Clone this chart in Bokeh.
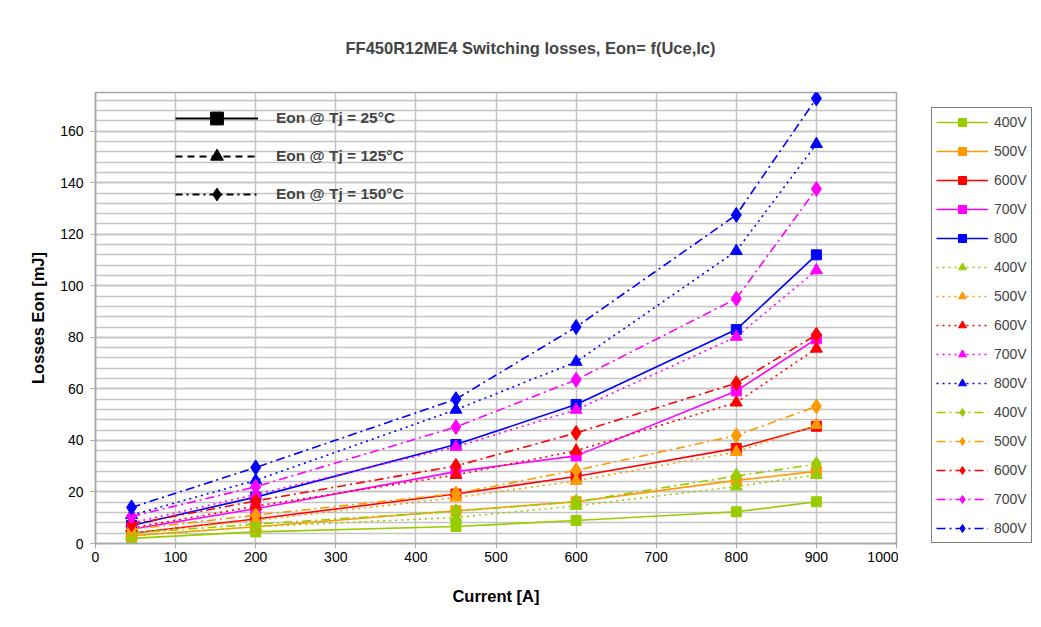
from bokeh.plotting import figure
from bokeh.layouts import row
from bokeh.models import (ColumnDataSource, Legend, LegendItem, Range1d,
                          SingleIntervalTicker)
from bokeh.embed import file_html
from bokeh.resources import INLINE

# ---------------- data ----------------
current = [45, 200, 450, 600, 800, 900]

labels_25 = ["400V", "500V", "600V", "700V", "800"]
labels_125 = ["400V", "500V", "600V", "700V", "800V"]
labels_150 = ["400V", "500V", "600V", "700V", "800V"]

eon_25_400 = [2.0, 4.5, 6.6, 8.9, 12.3, 16.2]
eon_25_500 = [3.0, 6.5, 12.7, 16.2, 24.5, 28.0]
eon_25_600 = [4.0, 9.5, 19.2, 26.0, 36.9, 45.5]
eon_25_700 = [5.5, 13.5, 27.9, 34.0, 59.2, 79.4]
eon_25_800 = [7.0, 18.0, 38.4, 53.9, 83.0, 112.0]

eon_125_400 = [3.0, 6.5, 10.1, 14.6, 22.1, 26.6]
eon_125_500 = [4.0, 9.0, 17.8, 24.3, 35.5, 46.0]
eon_125_600 = [6.0, 14.5, 26.6, 36.0, 54.7, 75.6]
eon_125_700 = [8.0, 19.0, 37.5, 51.9, 80.2, 106.0]
eon_125_800 = [11.0, 24.5, 51.9, 70.5, 113.5, 155.0]

eon_150_400 = [4.0, 7.5, 12.5, 16.2, 26.2, 30.8]
eon_150_500 = [5.5, 11.0, 19.4, 28.4, 41.9, 53.2]
eon_150_600 = [7.5, 16.5, 30.1, 42.9, 62.2, 81.0]
eon_150_700 = [10.5, 22.0, 45.2, 63.5, 95.0, 137.6]
eon_150_800 = [14.0, 29.5, 56.0, 84.0, 127.5, 172.7]

temp_labels = ["Eon @ Tj = 25°C", "Eon @ Tj = 125°C", "Eon @ Tj = 150°C"]

# ---------------- styles ----------------
colors = ["#99cc00", "#ff9900", "#ff0000", "#ff00ff", "#0000ff"]
FONT = "Liberation Sans"
GRID = "#c4c4c4"
nan = float("nan")

p = figure(width=898, height=619, output_backend="svg", toolbar_location=None,
           x_range=Range1d(0, 1000), y_range=Range1d(0, 175),
           min_border_left=95, min_border_right=2, min_border_top=90,
           min_border_bottom=76)

xax = p.below[0]
yax = p.left[0]

p.title.text = "FF450R12ME4 Switching losses, Eon= f(Uce,Ic)"
p.title.text_font = FONT
p.title.text_font_size = "16.5px"
p.title.text_font_style = "bold"
p.title.align = "left"
p.title.offset = 250
p.title.standoff = 72

p.outline_line_color = "#a8a8a8"
p.outline_line_width = 1.5
p.background_fill_color = "white"

xax.ticker = SingleIntervalTicker(interval=100, num_minor_ticks=0)
yax.ticker = SingleIntervalTicker(interval=20, num_minor_ticks=5)
p.xgrid.ticker = xax.ticker
p.ygrid.ticker = yax.ticker
p.xgrid.grid_line_color = GRID
p.xgrid.grid_line_width = 1.5
p.ygrid.grid_line_color = GRID
p.ygrid.grid_line_width = 1.5
p.ygrid.minor_grid_line_color = GRID
p.ygrid.minor_grid_line_width = 1.5

for ax in (xax, yax):
    ax.axis_line_color = "#a8a8a8"
    ax.axis_line_width = 1.5
    ax.major_tick_line_color = "#a8a8a8"
    ax.major_tick_out = 5
    ax.major_tick_in = 0
    ax.minor_tick_line_color = None
    ax.major_label_text_font = FONT
    ax.major_label_text_font_size = "14px"
    ax.major_label_text_color = "black"
    ax.axis_label_text_font = FONT
    ax.axis_label_text_font_size = "16.5px"
    ax.axis_label_text_font_style = "bold"
    ax.axis_label_text_color = "black"

xax.axis_label = "Current [A]"
yax.axis_label = "Losses Eon [mJ]"
xax.major_label_standoff = 3
xax.axis_label_standoff = 22
yax.major_label_standoff = 7
yax.axis_label_standoff = 10

groups = [
    ([eon_25_400, eon_25_500, eon_25_600, eon_25_700, eon_25_800], labels_25,
     "solid", "square", 10),
    ([eon_125_400, eon_125_500, eon_125_600, eon_125_700, eon_125_800], labels_125,
     "2 4", "triangle", 12),
    ([eon_150_400, eon_150_500, eon_150_600, eon_150_700, eon_150_800], labels_150,
     "9 4 2 4", "diamond", 15),
]

# second narrow figure that only carries the series legend
pl = figure(width=135, height=619, output_backend="svg", toolbar_location=None,
            x_range=Range1d(0, 1), y_range=Range1d(0, 1),
            x_axis_location=None, y_axis_location=None,
            min_border_left=0, min_border_right=0, min_border_top=0,
            min_border_bottom=0)
pl.outline_line_color = None
pl.xgrid.visible = False
pl.ygrid.visible = False

items = []
for series, labs, dash, marker, msize in groups:
    for vals, lab, col in zip(series, labs, colors):
        src = ColumnDataSource(dict(x=current, y=vals))
        p.line("x", "y", source=src, line_color=col, line_width=1.6,
               line_dash=dash)
        p.scatter("x", "y", source=src, marker=marker, size=msize,
                  fill_color=col, line_color=col)
        key = ColumnDataSource(dict(x=[nan], y=[nan]))
        lr = pl.line("x", "y", source=key, line_color=col, line_width=1.6,
                     line_dash=dash)
        sr = pl.scatter("x", "y", source=key, marker=marker, size=msize,
                        fill_color=col, line_color=col)
        items.append(LegendItem(label=lab, renderers=[lr, sr]))

legend = Legend(items=items, location=(33, 0), orientation="vertical",
                glyph_width=52, glyph_height=20, label_height=20, spacing=9,
                padding=4, margin=0, label_standoff=6,
                label_text_font=FONT, label_text_font_size="14px",
                border_line_color="black", border_line_width=1.2,
                background_fill_color="white", background_fill_alpha=1.0)
pl.add_layout(legend, "center")

# Temperature key (inset legend); sources hold one NaN point so that
# only the legend swatches are visible.
t_items = []
for lab, dash, marker in zip(temp_labels, ["solid", "7 5", "7 4 2 4"],
                             ["square", "triangle", "diamond"]):
    src = ColumnDataSource(dict(x=[nan], y=[nan]))
    lr = p.line("x", "y", source=src, line_color="black", line_width=2,
                line_dash=dash)
    sr = p.scatter("x", "y", source=src, marker=marker, size=14,
                   fill_color="black", line_color="black")
    t_items.append(LegendItem(label=lab, renderers=[lr, sr]))

tlegend = Legend(items=t_items, location=(80, 333), orientation="vertical",
                 glyph_width=83, glyph_height=32, label_height=20, spacing=6,
                 padding=0, margin=0, label_standoff=18,
                 label_text_font=FONT, label_text_font_size="15.5px",
                 label_text_font_style="bold",
                 border_line_color=None, background_fill_alpha=0.0)
p.add_layout(tlegend, "center")

layout = row(p, pl, spacing=0)
open("out.html", "w").write(file_html(layout, INLINE))
